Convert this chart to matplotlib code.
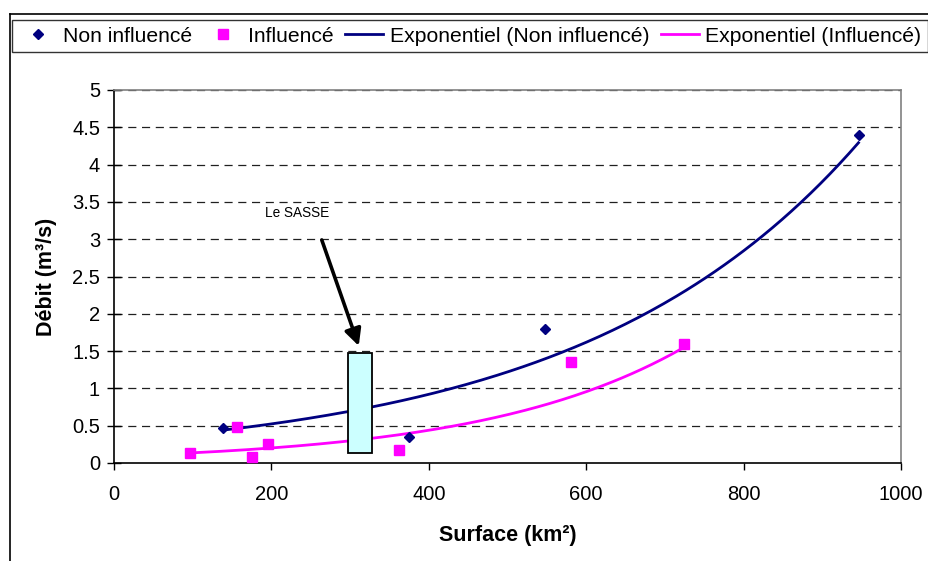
import numpy as np
import matplotlib
matplotlib.use("Agg")
import matplotlib.pyplot as plt
from matplotlib.patches import Rectangle
from matplotlib.lines import Line2D

plt.rcParams['font.family'] = ['Liberation Sans', 'DejaVu Sans']

# Data
non_infl_x = [138, 375, 548, 946]
non_infl_y = [0.47, 0.35, 1.80, 4.40]
infl_x = [97, 156, 175, 196, 362, 581, 724]
infl_y = [0.14, 0.48, 0.08, 0.26, 0.18, 1.35, 1.60]

# Exponential trendline coefficients (y = a * exp(b x))
trend_non_a, trend_non_b = 0.298, 0.00282
trend_inf_a, trend_inf_b = 0.0925, 0.003892

# "Le SASSE" box (x range, y range)
sasse_x = [297, 328]
sasse_y = [0.14, 1.48]

x_ticks = [0, 200, 400, 600, 800, 1000]
y_ticks = [0, 0.5, 1, 1.5, 2, 2.5, 3, 3.5, 4, 4.5, 5]

navy = '#000080'
magenta = '#FF00FF'

fig = plt.figure(figsize=(9.29, 5.61), dpi=100)
W, H = 929, 561
ax = fig.add_axes([114 / W, 1 - 463 / H, (901 - 114) / W, (463 - 90) / H])

# grid
for yv in y_ticks[1:]:
    ax.axhline(yv, color='#202020', lw=0.9, linestyle=(0, (6.5, 4.5)), zorder=1)

# trendlines
xn = np.linspace(min(non_infl_x), max(non_infl_x), 200)
xi = np.linspace(min(infl_x), max(infl_x), 200)
ax.plot(xn, trend_non_a * np.exp(trend_non_b * xn), color=navy, lw=2.0, zorder=3,
        label='Exponentiel (Non influencé)')
ax.plot(xi, trend_inf_a * np.exp(trend_inf_b * xi), color=magenta, lw=2.0, zorder=3,
        label='Exponentiel (Influencé)')

# points
ax.plot(non_infl_x, non_infl_y, linestyle='none', marker='D', ms=5.6, color=navy,
        zorder=4, label='Non influencé')
ax.plot(infl_x, infl_y, linestyle='none', marker='s', ms=7, color=magenta,
        zorder=4, label='Influencé')

# Le SASSE box and arrow
ax.add_patch(Rectangle((sasse_x[0], sasse_y[0]), sasse_x[1] - sasse_x[0],
                       sasse_y[1] - sasse_y[0], facecolor='#CCFFFF',
                       edgecolor='black', lw=1.3, zorder=5))
ax.annotate('', xy=(311, 1.57), xytext=(264, 2.99),
            arrowprops=dict(arrowstyle='-|>,head_length=1.0,head_width=0.5',
                            color='black', lw=2.6, shrinkA=0, shrinkB=0), zorder=6)
ax.text(192, 3.35, 'Le SASSE', fontsize=9.8, ha='left', va='center', zorder=6)

ax.set_xlim(0, 1000)
ax.set_ylim(0, 5)
ax.set_xticks(x_ticks)
ax.set_yticks(y_ticks)
ax.set_xticklabels([f'{v:g}' for v in x_ticks], fontsize=14.5)
ax.set_yticklabels([f'{v:g}' for v in y_ticks], fontsize=14.5)
ax.tick_params(axis='y', direction='inout', length=10, width=1, pad=5)
ax.tick_params(axis='x', direction='out', length=5, width=1, pad=11)

for s in ['top', 'right']:
    ax.spines[s].set_color('#808080')
    ax.spines[s].set_linewidth(1.2)
for s in ['left', 'bottom']:
    ax.spines[s].set_color('black')
    ax.spines[s].set_linewidth(1.2)

ax.set_xlabel('Surface (km²)', fontsize=15.5, fontweight='bold', labelpad=15)
ax.set_ylabel('Débit (m³/s)', fontsize=15.5, fontweight='bold', labelpad=11)

# legend
handles = [
    Line2D([], [], linestyle='none', marker='D', ms=5.6, color=navy),
    Line2D([], [], linestyle='none', marker='s', ms=7, color=magenta),
    Line2D([], [], color=navy, lw=2.0),
    Line2D([], [], color=magenta, lw=2.0),
]
labels = ['Non influencé', 'Influencé', 'Exponentiel (Non influencé)',
          'Exponentiel (Influencé)']
leg = fig.legend(handles, labels, loc='center', ncol=4,
                 bbox_to_anchor=((14 + 926) / 2 / W, 1 - 36 / H),
                 fontsize=15.2, frameon=True, fancybox=False,
                 handlelength=1.8, handletextpad=0.3, columnspacing=0.55,
                 borderpad=0.3, borderaxespad=0)
leg.get_frame().set_edgecolor('black')
leg.get_frame().set_linewidth(1.0)

# outer frame lines
fig.add_artist(Line2D([10 / W, 1], [1 - 14 / H, 1 - 14 / H], color='black', lw=1.2,
                      transform=fig.transFigure))
fig.add_artist(Line2D([10 / W, 10 / W], [0, 1 - 14 / H], color='black', lw=1.2,
                      transform=fig.transFigure))

fig.savefig('out.png', dpi=100)
